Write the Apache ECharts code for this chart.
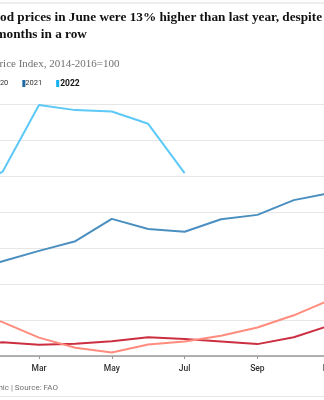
<!DOCTYPE html>
<html>
<head>
<meta charset="utf-8">
<script src="https://cdn.jsdelivr.net/npm/echarts@6/dist/echarts.min.js"></script>
<style>
html,body{margin:0;padding:0;width:324px;height:400px;overflow:hidden;background:#fff;}
#c{position:absolute;left:-100px;top:0;width:540px;height:400px;}
</style>
</head>
<body>
<div id="c"></div>
<script>
const months = ['Jan','Feb','Mar','Apr','May','Jun','Jul','Aug','Sep','Oct','Nov','Dec'];
const years = ['2019','2020','2021','2022'];
const v2019 = [92.8, 93.8, 93.1, 93.4, 94.1, 95.2, 94.7, 94.0, 93.3, 95.2, 98.5, 101.0];
const v2020 = [102.5, 99.4, 95.1, 92.3, 91.0, 93.2, 94.0, 95.6, 97.9, 101.3, 105.6, 107.8];
const v2021 = [113.3, 116.3, 119.2, 121.9, 128.1, 125.3, 124.5, 128.0, 129.2, 133.3, 135.3, 133.7];
const v2022 = [135.6, 141.2, 159.7, 158.3, 157.9, 154.5, 140.8];
const yMin = 90, yMax = 160, yStep = 10;

const lineColors = ['#cc2f40', '#ff8c7c', '#4a8fc0', '#5cc9f7'];
const keyColors  = ['#c8283a', '#ff7a68', '#1f6aa5', '#12b0f2'];
const values = [v2019, v2020, v2021, v2022];

const titleFont = {fontFamily: 'Liberation Serif', fontWeight: 'bold', fontSize: 13.25, color: '#121212'};

const chart = echarts.init(document.getElementById('c'), null, {renderer:'canvas'});
const option = {
  animation: false,
  title: [
    {text: 'Food prices in June were 13% higher than last year, despite falling for three',
     left: 85.3, top: 11, padding: 0, textStyle: titleFont},
    {text: 'months in a row',
     left: 95.5, top: 28, padding: 0, textStyle: titleFont},
    {text: 'FAO Food Price Index, 2014-2016=100',
     left: 44, top: 59, padding: 0,
     textStyle: {fontFamily: 'Liberation Serif', fontWeight: 'normal', fontSize: 11, color: '#707070'}}
  ],
  legend: {
    left: 54.6, top: 79, padding: 0,
    icon: 'rect', itemWidth: 3, itemHeight: 7, itemGap: 14,
    textStyle: {fontFamily: 'Roboto', fontSize: 7.5, color: '#333', padding: [0,0,0,-5]},
    data: years.map((y, i) => ({name: y, textStyle: i === 3 ? {fontWeight: 'bold', fontSize: 8.5, color: '#121212', padding: [0,0,0,-4]} : {}})),
    selectedMode: false
  },
  graphic: [
    {type: 'line', shape: {x1: 0, y1: 3, x2: 540, y2: 3}, style: {stroke: '#dcdcdc', lineWidth: 1}},
    {type: 'line', shape: {x1: 0, y1: 396.5, x2: 540, y2: 396.5}, style: {stroke: '#e6e6e6', lineWidth: 1}},
    {type: 'text', x: 158, y: 388,
     style: {text: 'Guardian graphic | Source: FAO', fontFamily: 'Roboto', fontSize: 8,
             fill: '#707070', align: 'right', verticalAlign: 'middle'}}
  ],
  grid: {left: 66.2, right: 73.4, top: 104, bottom: 44},
  xAxis: {
    type: 'category', data: months, boundaryGap: false,
    axisLine: {lineStyle: {color: '#999', width: 1.5}},
    axisTick: {interval: 1, length: 3, lineStyle: {color: '#999'}},
    axisLabel: {interval: 1, fontFamily: 'Roboto', fontSize: 8.5, fontWeight: 500, color: '#333', margin: 8},
    splitLine: {show: false}
  },
  yAxis: {
    type: 'value', min: yMin, max: yMax, interval: yStep,
    axisLabel: {show: false}, axisLine: {show: false}, axisTick: {show: false},
    splitLine: {lineStyle: {color: '#e6e6e6', width: 1.2}}
  },
  series: years.map((y, i) => ({
    name: y, type: 'line', data: values[i], symbol: 'none', smooth: false,
    z: i + 2,
    itemStyle: {color: keyColors[i]},
    lineStyle: {color: lineColors[i], width: 2}
  }))
};
chart.setOption(option);
</script>
</body>
</html>
